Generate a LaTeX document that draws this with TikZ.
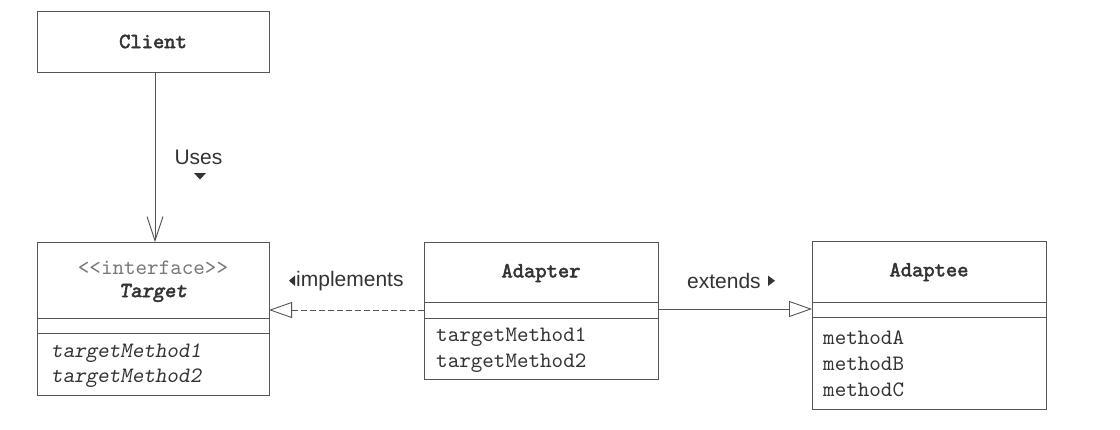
\documentclass[tikz,border=0pt]{standalone}
\usepackage{fontspec}
\setmainfont{Liberation Sans}
\setsansfont{Liberation Sans}
\setmonofont{lmmono10-regular.otf}[ItalicFont=lmmonoslant10-regular.otf]
\newfontfamily\monobold{lmmono10-regular.otf}[FakeBold=2.5, ItalicFont=lmmonoslant10-regular.otf, ItalicFeatures={FakeBold=2.5}]
\usetikzlibrary{arrows.meta}
\definecolor{linec}{HTML}{555555}
\definecolor{textc}{HTML}{333333}
\definecolor{stereoc}{HTML}{777777}
\tikzset{
  classbox/.style={draw=linec, line width=0.9pt, rectangle, inner sep=0pt, anchor=north west},
  sepline/.style={draw=linec, line width=0.9pt},
  cname/.style={font=\fontsize{21.5}{24}\selectfont\monobold, text=textc},
  meth/.style={font=\fontsize{22}{24}\selectfont\ttfamily, text=textc, anchor=west, inner sep=0pt},
  imeth/.style={font=\fontsize{22}{24}\selectfont\ttfamily\itshape, text=textc, anchor=west, inner sep=0pt},
  lbl/.style={font=\fontsize{21}{24}\selectfont\sffamily, text=textc, inner sep=0pt},
  conn/.style={draw=linec, line width=0.9pt},
  tri/.style={fill=textc, draw=none}
}
\begin{document}
\begin{tikzpicture}[x=1pt,y=-1pt]
\useasboundingbox (0,0) rectangle (1120,429);
% Client
\node[classbox, minimum width=232pt, minimum height=61pt] (client) at (37,11) {};
\node[cname] (clientname) at (153,41.5) {Client};
% Target
\node[classbox, minimum width=232pt, minimum height=153pt] (target) at (37,242) {};
\draw[sepline] (37,318) -- (269,318);
\draw[sepline] (37,333) -- (269,333);
\node[font=\fontsize{22}{24}\selectfont\ttfamily, text=stereoc] (stereo) at (153,268) {<{}<interface>{}>};
\node[cname, font=\fontsize{21.5}{24}\selectfont\monobold\itshape] (targetname) at (153,293) {Target};
\node[imeth] (tm1) at (51,353) {targetMethod1};
\node[imeth] (tm2) at (51,378) {targetMethod2};
% Adapter
\node[classbox, minimum width=234pt, minimum height=137pt] (adapter) at (424,242) {};
\draw[sepline] (424,302) -- (658,302);
\draw[sepline] (424,318) -- (658,318);
\node[cname] (adaptername) at (541,273) {Adapter};
\node[meth] (am1) at (436,337) {targetMethod1};
\node[meth] (am2) at (436,363) {targetMethod2};
% Adaptee
\node[classbox, minimum width=234pt, minimum height=168pt] (adaptee) at (812,241) {};
\draw[sepline] (812,302) -- (1046,302);
\draw[sepline] (812,317) -- (1046,317);
\node[cname] (adapteename) at (929,272) {Adaptee};
\node[meth] (ma) at (823,338) {methodA};
\node[meth] (mb) at (823,364) {methodB};
\node[meth] (mc) at (823,390) {methodC};
% connectors
\coordinate (cbot) at (client.south -| 155,0);
\coordinate (ttop) at (target.north -| 155,0);
\draw[conn, -{Straight Barb[length=24pt, width=16pt, line width=0.9pt]}] (cbot) -- (ttop);
\coordinate (aleft) at (424,310);
\coordinate (tright) at (269,310);
\draw[conn, dash pattern=on 6pt off 3pt, -{Triangle[open, length=23pt, width=16pt, fill=white, line width=0.9pt]}] (aleft) -- (tright);
\coordinate (aright) at (658,309);
\coordinate (eleft) at (812,309);
\draw[conn, -{Triangle[open, length=23pt, width=16pt, fill=white, line width=0.9pt]}] (aright) -- (eleft);
% labels
\node[lbl] (uses) at (198.5,157) {Uses};
\fill[tri] (194,173) -- (206,173) -- (200,179.5) -- cycle;
\node[lbl, anchor=west] (impl) at (296,281) {implements};
\fill[tri] (295,275.5) -- (295,286) -- (289,280.75) -- cycle;
\node[lbl, anchor=west] (ext) at (687,281) {extends};
\fill[tri] (768,275.5) -- (768,286) -- (775,280.75) -- cycle;
\end{tikzpicture}
\end{document}
